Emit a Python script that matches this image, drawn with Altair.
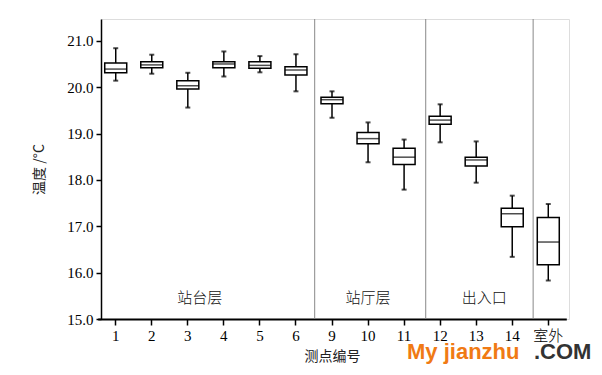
import altair as alt
import pandas as pd

points = ["1", "2", "3", "4", "5", "6", "9", "10", "11", "12", "13", "14", "室外"]
whisker_low = [20.14, 20.29, 19.56, 20.23, 20.32, 19.91, 19.34, 18.38, 17.79, 18.81, 17.94, 16.34, 15.83]
q1 = [20.31, 20.42, 19.96, 20.42, 20.41, 20.26, 19.64, 18.78, 18.33, 19.20, 18.30, 16.99, 16.17]
median = [20.39, 20.48, 20.03, 20.50, 20.47, 20.37, 19.73, 18.89, 18.49, 19.29, 18.43, 17.27, 16.66]
q3 = [20.52, 20.55, 20.14, 20.55, 20.55, 20.44, 19.78, 19.02, 18.68, 19.37, 18.49, 17.39, 17.19]
whisker_high = [20.84, 20.70, 20.31, 20.77, 20.67, 20.71, 19.91, 19.24, 18.87, 19.63, 18.83, 17.66, 17.48]

group_names = ["站台层", "站厅层", "出入口"]
group_anchor = ["3", "10", "13"]
group_band = [1.0, 0.5, 0.5]
group_dx = [-6, 0, 8]

divider_at = ["9", "12", "室外"]
divider_band = [0.02, 0.1, 0.08]

df = pd.DataFrame({
    "point": points, "lo": whisker_low, "q1": q1, "med": median,
    "q3": q3, "hi": whisker_high,
})
one = pd.DataFrame({"k": [0]})

FONT = "Times New Roman"
CJK = "Noto Sans CJK SC"

xscale = alt.Scale(domain=points, range=[-3.3, 465.3], paddingInner=0, paddingOuter=0)
yscale = alt.Scale(domain=[15, 21.47], nice=False, zero=False)

xenc = alt.X("point:N", scale=xscale, sort=points, title="测点编号",
             axis=alt.Axis(labelAngle=0, domainColor="black", domainWidth=2,
                           tickColor="black", tickWidth=1.5, tickSize=6,
                           labelPadding=3, titlePadding=6, labelFontSize=15,
                           titleFontSize=14,
                           labelFont={"condition": {"test": "datum.label == '室外'", "value": CJK}, "value": FONT},
                           labelFontWeight={"condition": {"test": "datum.label == '室外'", "value": 300}, "value": "normal"},
                           titleFont=CJK, titleFontWeight="normal", labelColor="black",
                           titleColor="#222222"))

base = alt.Chart(df)

whisk = base.mark_rule(color="black", strokeWidth=1.5).encode(
    x=xenc,
    y=alt.Y("lo:Q", scale=yscale, title="温度 /°C",
            axis=alt.Axis(values=[15, 15.5, 16, 16.5, 17, 17.5, 18, 18.5, 19, 19.5, 20, 20.5, 21, 21.5],
                          labelExpr="datum.value % 1 == 0 ? format(datum.value, '.1f') : ''",
                          domainColor="black", domainWidth=1.5, tickColor="black",
                          tickWidth=1.5, tickSize=5, grid=False, labelFontSize=15,
                          titleFontSize=14, labelFont=FONT, titleFont=CJK,
                          titleFontWeight="normal", labelColor="black",
                          titleColor="#222222", labelPadding=3, titlePadding=20)),
    y2="hi:Q",
)
cap_lo = base.mark_tick(color="black", size=5, thickness=2).encode(x=alt.X("point:N", scale=xscale, sort=points), y="lo:Q")
cap_hi = base.mark_tick(color="black", size=5, thickness=2).encode(x=alt.X("point:N", scale=xscale, sort=points), y="hi:Q")
box = base.mark_bar(size=22, fill="white", stroke="black", strokeWidth=1.5).encode(
    x=alt.X("point:N", scale=xscale, sort=points), y="q1:Q", y2="q3:Q")
med = base.mark_tick(color="black", size=22, thickness=1.5).encode(
    x=alt.X("point:N", scale=xscale, sort=points), y="med:Q")

layers = [whisk, box, cap_lo, cap_hi, med]

for cat, bp in zip(divider_at, divider_band):
    layers.append(alt.Chart(one).mark_rule(color="#888888", strokeWidth=1).encode(
        x=alt.X(datum=cat, scale=xscale, bandPosition=bp),
        y=alt.value(0), y2=alt.value(300)))

for name, cat, bp, dx in zip(group_names, group_anchor, group_band, group_dx):
    layers.append(alt.Chart(one).mark_text(text=name, font=CJK, fontSize=15, fontWeight=300,
                                           color="#111111", dx=dx, baseline="alphabetic").encode(
        x=alt.X(datum=cat, scale=xscale, bandPosition=bp),
        y=alt.value(284)))

wm1 = alt.Chart(one).mark_text(text="My jianzhu", font="Liberation Sans", fontSize=22,
                               fontWeight="bold", color="#f07a14", align="left",
                               baseline="alphabetic").encode(x=alt.value(306), y=alt.value(340))
wm2 = alt.Chart(one).mark_text(text=".COM", font="Liberation Sans", fontSize=22,
                               fontWeight="bold", color="#333333", align="left",
                               baseline="alphabetic").encode(x=alt.value(433), y=alt.value(340))
layers += [wm1, wm2]

chart = alt.layer(*layers).properties(
    width=468, height=300,
    autosize=alt.AutoSizeParams(type="none"),
    padding={"left": 93, "top": 11, "right": 25, "bottom": 50},
).configure_view(stroke="#888888", strokeWidth=1).configure(background="white")

chart.save("out.html", embed_options={"renderer": "svg", "actions": False})
